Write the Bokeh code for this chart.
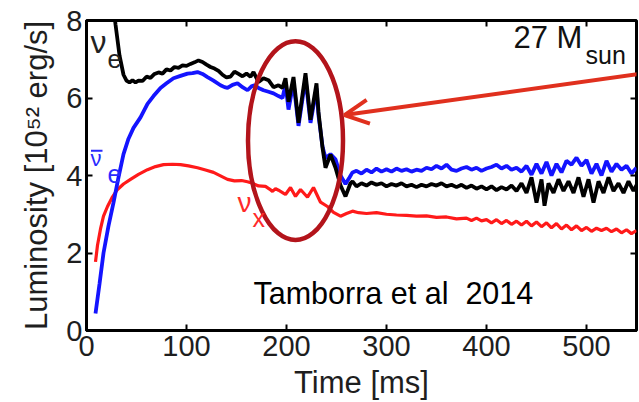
from bokeh.plotting import figure
from bokeh.models import LinearAxis, FixedTicker, Label, Arrow, OpenHead
from bokeh.embed import file_html
from bokeh.resources import INLINE

# ---------------- data ----------------
t_nue = [25, 29, 33, 37, 40, 43, 46, 49, 52, 56, 60, 64, 68, 72, 76, 80, 84, 88,
         92, 96, 100, 104, 108, 112, 116, 120, 124, 128, 132, 136, 140, 144, 148,
         152, 156, 160, 164, 167, 172, 177, 182, 187, 192, 196, 199, 202, 207,
         212, 219, 224, 230, 232, 236, 239, 244, 249, 254, 259, 264, 266, 270,
         275, 280, 285, 290, 295, 300, 305, 310, 315, 320, 325, 330, 335, 340,
         345, 350, 355, 360, 365, 370, 375, 380, 385, 390, 395, 400, 405, 410,
         415, 420, 425, 430, 435, 440, 445, 450, 455, 458, 462, 467, 472, 477,
         482, 487, 492, 497, 502, 507, 512, 517, 522, 527, 532, 537, 542, 547, 550]
L_nue = [8.8, 7.9, 7.1, 6.6, 6.45, 6.40, 6.46, 6.40, 6.45, 6.44, 6.55, 6.52, 6.62,
         6.66, 6.63, 6.74, 6.71, 6.80, 6.78, 6.84, 6.83, 6.88, 6.92, 6.97, 6.93,
         6.86, 6.80, 6.76, 6.70, 6.60, 6.53, 6.55, 6.68, 6.62, 6.56, 6.63, 6.55,
         6.67, 6.41, 6.51, 6.46, 6.28, 6.33, 6.26, 6.51, 5.90, 6.54, 5.36, 6.64,
         5.44, 6.38, 5.64, 4.72, 4.20, 4.54, 4.20, 3.75, 3.46, 3.80, 3.85, 3.72,
         3.80, 3.74, 3.82, 3.76, 3.80, 3.72, 3.78, 3.74, 3.80, 3.72, 3.76, 3.70,
         3.76, 3.72, 3.78, 3.74, 3.80, 3.72, 3.76, 3.70, 3.76, 3.68, 3.74, 3.66,
         3.72, 3.64, 3.72, 3.62, 3.70, 3.64, 3.74, 3.60, 3.80, 3.55, 3.95, 3.30,
         3.90, 3.22, 3.80, 3.55, 3.90, 3.60, 3.85, 3.55, 3.95, 3.45, 3.90, 3.30,
         3.85, 3.55, 3.95, 3.60, 3.80, 3.55, 3.85, 3.60, 3.75]

t_anue = [9, 13, 17, 22, 27, 32, 37, 42, 47, 54, 61, 67, 74, 80, 87, 94, 101, 106,
          111, 116, 121, 127, 134, 138, 141, 146, 151, 156, 161, 165, 168, 172,
          177, 182, 187, 192, 196, 199, 202, 207, 212, 219, 224, 230, 232, 236,
          239, 244, 249, 254, 259, 263, 266, 270, 275, 280, 285, 290, 295, 300,
          305, 310, 315, 320, 325, 330, 335, 340, 345, 350, 355, 360, 365, 370,
          375, 380, 385, 390, 395, 400, 405, 410, 415, 420, 425, 430, 435, 440,
          445, 450, 455, 460, 465, 470, 475, 480, 485, 490, 495, 500, 505, 510,
          515, 520, 525, 530, 535, 540, 545, 550]
L_anue = [0.44, 1.2, 2.0, 2.7, 3.3, 3.95, 4.55, 4.95, 5.23, 5.50, 5.85, 6.05, 6.26,
          6.38, 6.51, 6.57, 6.63, 6.64, 6.67, 6.62, 6.54, 6.45, 6.33, 6.28, 6.26,
          6.34, 6.38, 6.28, 6.20, 6.30, 6.33, 6.26, 6.20, 6.16, 6.12, 6.05, 6.00,
          6.35, 5.70, 6.40, 5.28, 6.50, 5.36, 6.25, 5.55, 4.75, 4.45, 4.55, 4.42,
          4.00, 3.78, 3.95, 4.08, 4.12, 4.05, 4.15, 4.08, 4.18, 4.10, 4.16, 4.10,
          4.18, 4.12, 4.16, 4.10, 4.15, 4.12, 4.20, 4.16, 4.25, 4.18, 4.28, 4.15,
          4.12, 4.18, 4.22, 4.15, 4.20, 4.12, 4.18, 4.22, 4.28, 4.18, 4.25, 4.15,
          4.20, 4.10, 4.25, 4.02, 4.30, 4.05, 4.35, 4.00, 4.30, 4.08, 4.38, 4.28,
          4.46, 4.25, 4.40, 4.05, 4.30, 4.00, 4.38, 4.10, 4.30, 4.15, 4.25, 4.05,
          4.20, 3.98]

t_nux = [9, 11, 14, 17, 21, 26, 31, 37, 44, 52, 61, 69, 77, 86, 94, 102, 111, 119,
         127, 134, 141, 148, 155, 161, 166, 172, 179, 183, 186, 189, 192, 196, 199,
         204, 209, 214, 221, 227, 234, 241, 247, 254, 260, 266, 272, 280, 290, 300,
         310, 320, 330, 340, 350, 360, 370, 380, 385, 390, 395, 400, 405, 410, 415,
         420, 425, 430, 435, 440, 445, 450, 455, 460, 465, 470, 475, 480, 485, 490,
         495, 500, 505, 510, 515, 520, 525, 530, 535, 540, 545, 550]
L_nux = [1.77, 2.20, 2.62, 2.95, 3.20, 3.45, 3.64, 3.78, 3.90, 4.03, 4.15, 4.23,
         4.28, 4.29, 4.28, 4.25, 4.20, 4.14, 4.08, 3.99, 3.90, 3.86, 3.87, 3.84,
         3.80, 3.73, 3.72, 3.65, 3.59, 3.66, 3.62, 3.56, 3.51, 3.69, 3.46, 3.64,
         3.44, 3.69, 3.31, 3.20, 3.05, 2.95, 3.02, 3.08, 3.04, 3.02, 3.04, 3.00,
         2.98, 2.97, 2.95, 2.96, 2.92, 2.93, 2.88, 2.90, 2.84, 2.90, 2.83, 2.86,
         2.78, 2.86, 2.76, 2.84, 2.74, 2.82, 2.72, 2.82, 2.70, 2.80, 2.68, 2.78,
         2.65, 2.76, 2.62, 2.72, 2.60, 2.70, 2.58, 2.66, 2.56, 2.64, 2.58, 2.64,
         2.55, 2.62, 2.52, 2.60, 2.50, 2.58]

x_ticks = [0, 100, 200, 300, 400, 500]
y_ticks = [0, 2, 4, 6, 8]

FONT = "Liberation Sans"
TXT = "#1e1e1e"

p = figure(width=639, height=402, x_range=(0, 550), y_range=(0, 8),
           output_backend="svg", toolbar_location=None, title=None,
           min_border_left=86, min_border_right=3, min_border_top=20,
           min_border_bottom=70, background_fill_color="white",
           border_fill_color="white")
p.xgrid.visible = False
p.ygrid.visible = False
p.outline_line_color = "black"
p.outline_line_width = 3

for ax, ticks in ((p.xaxis[0], x_ticks), (p.yaxis[0], y_ticks)):
    ax.ticker = FixedTicker(ticks=ticks)
    ax.major_tick_in = 6
    ax.major_tick_out = 0
    ax.major_tick_line_width = 2
    ax.minor_tick_line_color = None
    ax.axis_line_width = 3
    ax.major_label_text_font = FONT
    ax.major_label_text_font_size = "29px"
    ax.major_label_text_color = TXT
    ax.axis_label_text_font = FONT
    ax.axis_label_text_font_size = "31px"
    ax.axis_label_text_font_style = "normal"
    ax.axis_label_text_color = TXT

p.xaxis.axis_label = "Time [ms]"
p.xaxis.major_label_standoff = 5
p.xaxis.axis_label_standoff = 6
p.yaxis.axis_label = "Luminosity [10\u2075\u00b2 erg/s]"
p.yaxis.major_label_standoff = 4
p.yaxis.axis_label_standoff = 9

# tick-only axes on top and right (labels not drawn)
for loc, ticks in (("above", x_ticks), ("right", y_ticks)):
    ax = LinearAxis(ticker=FixedTicker(ticks=ticks), major_tick_in=6,
                    major_tick_out=0, major_tick_line_width=2,
                    minor_tick_line_color=None, major_label_text_color=None,
                    major_label_text_font_size="1px", major_label_standoff=0,
                    axis_line_color=None)
    p.add_layout(ax, loc)

# curves
p.line(t_nux, L_nux, line_color="#ff1a1a", line_width=3.2)
p.line(t_anue, L_anue, line_color="#1414ff", line_width=3.8)
p.line(t_nue, L_nue, line_color="black", line_width=3.8)

# ellipse and arrow
p.ellipse(x=[209], y=[4.9], width=[95], height=[5.13], fill_color=None,
          line_color="#b3141b", line_width=4.5)
p.add_layout(Arrow(end=OpenHead(line_color="#e0301e", line_width=4, size=24),
                   x_start=553, y_start=6.62, x_end=258, y_end=5.56,
                   line_color="#e0301e", line_width=4))

def lab(x, y, text, size, color):
    p.add_layout(Label(x=x, y=y, text=text, text_font=FONT, text_font_size=size,
                       text_color=color, text_baseline="alphabetic",
                       text_align="left"))

lab(4, 7.45, "\u03bd", "32px", "#222222")
lab(21, 7.0, "e", "25px", "#222222")
lab(4, 4.45, "\u03bd", "22px", "#2a2aff")
p.segment(x0=[4.5], y0=[4.64], x1=[16], y1=[4.64], line_color="#2a2aff",
          line_width=2)
lab(21, 4.05, "e", "25px", "#2a2aff")
lab(151, 3.3, "\u03bd", "28px", "#ff2a2a")
lab(166, 2.9, "x", "25px", "#ff2a2a")
lab(427, 7.55, "27 M", "31px", "#111111")
lab(499, 7.1, "sun", "25px", "#111111")
lab(167, 0.98, "Tamborra et al\u00a0 2014", "30.5px", "black")

open("out.html", "w").write(file_html(p, INLINE))
